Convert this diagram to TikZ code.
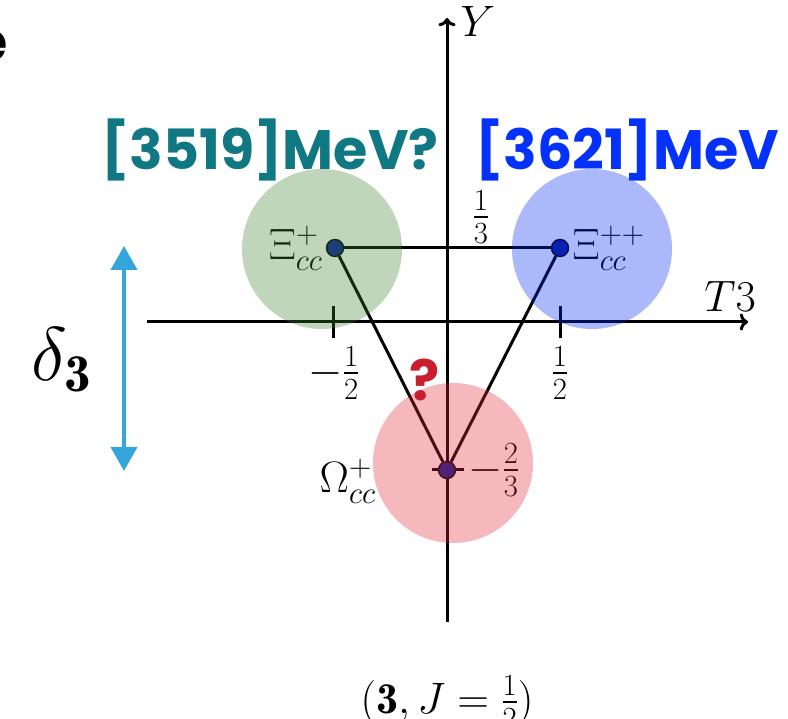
\RequirePackage{fix-cm}
\documentclass[tikz,border=0pt]{standalone}
\usepackage{amsmath}
\usepackage{amssymb}
\usepackage{fontspec}
\newfontfamily\tagfont{Poppins}
\usetikzlibrary{shapes.geometric, arrows, arrows.meta, positioning}

\definecolor{massteal}{RGB}{16,120,130}
\definecolor{massblue}{RGB}{5,50,250}
\definecolor{deltablue}{RGB}{52,166,220}
\definecolor{qred}{RGB}{200,30,45}
\definecolor{dotblue}{RGB}{10,30,150}
\definecolor{blobgreen}{RGB}{60,130,50}
\definecolor{blobblue}{RGB}{0,40,240}
\definecolor{blobred}{RGB}{225,40,55}

\tikzset{
  state/.style={circle, draw=black, line width=1.4pt, fill=dotblue, minimum size=17pt, inner sep=0pt},
  blob/.style={circle, minimum size=160pt, inner sep=0pt, fill opacity=0.33},
  mathlab/.style={font=\fontsize{44}{50}\selectfont},
  masslab/.style={font=\tagfont\bfseries\fontsize{55.5}{62}\selectfont},
}

\begin{document}
\begin{tikzpicture}[x=1pt, y=-1pt, line width=3pt, mathlab]
        \useasboundingbox (0,0) rectangle (788,719);

        % Axes
        \coordinate (tl) at (147,322);
        \coordinate (tr) at (748,322);
        \coordinate (yb) at (447,622);
        \coordinate (yt) at (447,18);
        \draw[->] (tl) -- (tr);
        \draw[->] (yb) -- (yt);
        \node (tlab) at (730,296) {$T3$};
        \node (ylab) at (478,21) {$Y$};

        % Ticks
        \draw (333,306) -- (333,338);
        \draw (560,306) -- (560,338);
        \draw (432,470) -- (464,470);
        \node (mhalf) at (334,373) {$-\tfrac{1}{2}$};
        \node (phalf) at (560,373) {$\tfrac{1}{2}$};
        \node (third) at (481,217) {$\tfrac{1}{3}$};

        % States
        \node[state] (xip) at (335,248) {};
        \node[state] (xipp) at (560,248) {};
        \node[state] (omg) at (447,470) {};
        \draw (xip) -- (xipp);
        \draw (xip) -- (omg);
        \draw (xipp) -- (omg);
        \node[left=2pt of xip, inner sep=0pt] (xiplab) {$\Xi^+_{cc}$};
        \node[right=2pt of xipp, inner sep=0pt] (xipplab) {$\Xi^{++}_{cc}$};
        \node[anchor=east, inner sep=0pt] (omglab) at (377,481) {$\Omega^+_{cc}$};
        \node[anchor=west, inner sep=0pt] (omgy) at (467,470) {$-\tfrac{2}{3}$};

        % Blobs
        \node[blob, fill=blobgreen] (bxip) at (322,249) {};
        \node[blob, fill=blobblue] (bxipp) at (592,249) {};
        \node[blob, fill=blobred] (bomg) at (453,463) {};

        % Splitting
        \coordinate (da) at (124,246);
        \coordinate (db) at (124,471);
        \draw[{Triangle[width=26pt,length=24pt]}-{Triangle[width=26pt,length=24pt]}, deltablue, line width=4pt] (da) -- (db);
        \node[font=\fontsize{76}{84}\selectfont] (dlab) at (62,360) {$\delta_{\mathbf{3}}$};

        % Masses
        \node[masslab, text=massteal] (mxip) at (270,150) {[3519]MeV?};
        \node[masslab, text=massblue] (mxipp) at (627,150) {[3621]MeV};
        \node[font=\tagfont\bfseries\fontsize{56}{62}\selectfont, text=qred] (qmark) at (425,380) {?};
        \node[masslab, text=black, anchor=east, inner sep=0pt] (cut) at (9,46) {e};

        % Multiplet
        \node (rep) at (447,702) {$(\mathbf{3}, J=\tfrac{1}{2})$};
      \end{tikzpicture}
\end{document}
